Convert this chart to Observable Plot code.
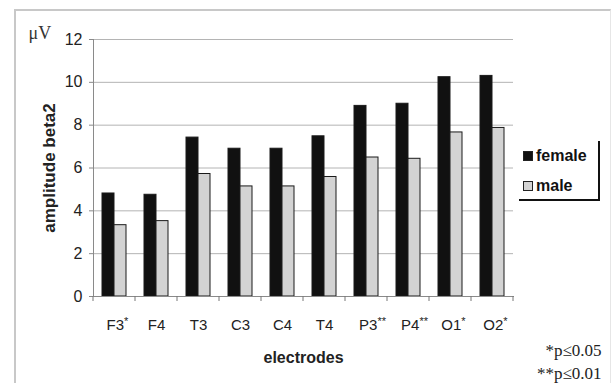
<!DOCTYPE html>
<html><head><meta charset="utf-8">
<script src="https://cdn.jsdelivr.net/npm/d3@7"></script>
<script src="https://cdn.jsdelivr.net/npm/@observablehq/plot@0.6"></script>
<style>
body{margin:0;background:#fff;}
#wrap{position:relative;width:611px;height:383px;overflow:hidden;font-family:"Liberation Sans",Arial,sans-serif;background:#fff;}
#frame{position:absolute;left:14px;top:9px;width:594px;height:380px;border-left:2px solid #c8c8c8;border-top:2px solid #c8c8c8;border-right:1px solid #e6e6e6;}
#wrap svg{position:absolute;left:0;top:0;}
#legend{position:absolute;left:519px;top:141px;width:79px;height:58px;border-right:2px solid #111;border-bottom:2px solid #111;}
.item{position:absolute;left:4px;display:flex;align-items:center;font-weight:bold;font-size:16px;color:#111;line-height:16px;}
.sw{width:8px;height:8px;border:1px solid #222;margin-right:3px;}
</style></head>
<body><div id="wrap"><div id="frame"></div></div>
<script>
const electrodes = ["F3","F4","T3","C3","C4","T4","P3","P4","O1","O2"];
const stars      = ["*","","","","","","**","**","*","*"];
const female     = [4.81,4.75,7.42,6.9,6.9,7.48,8.9,9.0,10.24,10.3];
const male       = [3.33,3.52,5.72,5.14,5.14,5.58,6.49,6.43,7.66,7.87];
const yTicks     = [0,2,4,6,8,10,12];
const groups     = ["female","male"];
const groupColors = ["#111111","#d3d3d3"];
const footnotes  = ["*p≤0.05","**p≤0.01"];
const yUnit = "μV";
const yTitle = "amplitude beta2";
const xTitle = "electrodes";

const data = electrodes.flatMap((e,i)=>[
  {electrode:e, sex:groups[0], value:female[i]},
  {electrode:e, sex:groups[1], value:male[i]}
]);
const serif = "Liberation Serif, Times New Roman, serif";

const plot = Plot.plot({
  width:611, height:383, marginLeft:89, marginRight:94, marginTop:39, marginBottom:87,
  style:{background:"transparent", fontFamily:"Liberation Sans, Arial, sans-serif", color:"#222"},
  fx:{domain:electrodes, padding:0, label:null},
  x:{domain:groups, paddingInner:0, paddingOuter:0.71, axis:null},
  y:{domain:[0,12], label:null},
  color:{domain:groups, range:groupColors},
  marks:[
    Plot.gridY(yTicks, {stroke:"#b4b4b4", strokeOpacity:1}),
    Plot.barY(data, {fx:"electrode", x:"sex", y:"value", fill:"sex", stroke:"#1a1a1a", strokeWidth:1}),
    Plot.frame({anchor:"left", facet:"super", stroke:"#8a8a8a"}),
    Plot.frame({anchor:"bottom", facet:"super", stroke:"#8a8a8a"}),
    Plot.axisY(yTicks, {tickSize:4, tickPadding:7, fontSize:16, stroke:"#8a8a8a", label:null}),
    Plot.axisFx({anchor:"bottom", tickSize:0, tickPadding:23, fontSize:15, label:null}),
    Plot.text([yUnit], {frameAnchor:"top-left", facet:"super", dx:-65, dy:-6, textAnchor:"start", lineAnchor:"middle", fontFamily:serif, fontSize:18, fill:"#333"}),
    Plot.text([yTitle], {frameAnchor:"left", facet:"super", dx:-44, rotate:-90, textAnchor:"middle", lineAnchor:"middle", fontWeight:"bold", fontSize:17, fill:"#222"}),
    Plot.text([xTitle], {frameAnchor:"bottom", facet:"super", dy:61, lineAnchor:"middle", fontWeight:"bold", fontSize:16, fill:"#222"}),
    Plot.text([footnotes[0]], {frameAnchor:"bottom-right", facet:"super", textAnchor:"end", lineAnchor:"middle", dx:88, dy:54, fontFamily:serif, fontSize:17, fill:"#222"}),
    Plot.text([footnotes[1]], {frameAnchor:"bottom-right", facet:"super", textAnchor:"end", lineAnchor:"middle", dx:88, dy:77, fontFamily:serif, fontSize:17, fill:"#222"})
  ]
});
document.getElementById("wrap").appendChild(plot);

// boundary ticks below the x axis, from the fx scale
const fxs = plot.scale("fx");
const ys = plot.scale("y");
const y0 = ys.apply(0);
const svg = d3.select(plot);
const g = svg.append("g").attr("stroke","#777").attr("stroke-width",1);
const bw = fxs.bandwidth != null ? fxs.bandwidth : fxs.step;
const bounds = electrodes.map(e=>fxs.apply(e)).concat([fxs.apply(electrodes[electrodes.length-1]) + bw]);
bounds.forEach(b=>g.append("line").attr("x1",b).attr("x2",b).attr("y1",y0).attr("y2",y0+5));

// superscript stars on tick labels
svg.selectAll('g[aria-label="fx-axis tick label"] text').each(function(){
  const t = this.textContent;
  const i = electrodes.indexOf(t);
  if (i >= 0 && stars[i]) {
    d3.select(this).attr("dx", 3*stars[i].length);
    d3.select(this).append("tspan").attr("font-size",11).attr("dy",-5).text(stars[i]);
  }
});

// legend
const leg = document.createElement("div");
leg.id = "legend";
groups.forEach((s,i)=>{
  const it = document.createElement("div");
  it.className = "item";
  it.style.top = (7 + 30*i) + "px";
  const sw = document.createElement("span");
  sw.className = "sw";
  sw.style.background = groupColors[i];
  it.appendChild(sw);
  it.appendChild(document.createTextNode(s));
  leg.appendChild(it);
});
document.getElementById("wrap").appendChild(leg);
</script>
</body></html>
